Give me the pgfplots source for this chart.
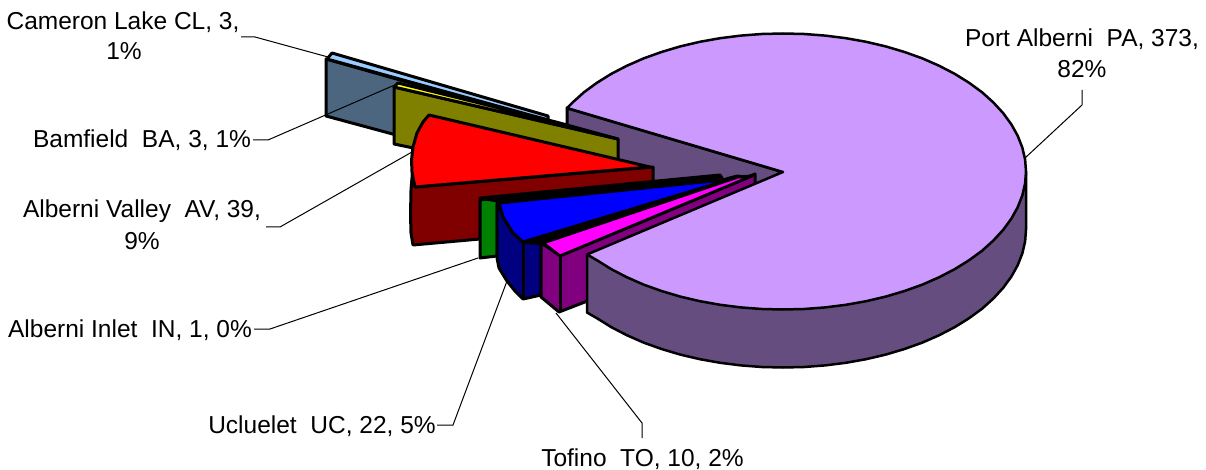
\documentclass[border=0pt]{standalone}
\usepackage{pgfplots}
\usepackage{fontspec}
\setmainfont{Liberation Sans}
\pgfplotsset{compat=1.18}
\definecolor{paT}{HTML}{CC99FF}
\definecolor{paS}{HTML}{664D80}
\definecolor{clT}{HTML}{99CCFF}
\definecolor{clS}{HTML}{4D6680}
\definecolor{baT}{HTML}{FFFF00}
\definecolor{baS}{HTML}{808000}
\definecolor{avT}{HTML}{FF0000}
\definecolor{avS}{HTML}{800000}
\definecolor{inS}{HTML}{008000}
\definecolor{ucT}{HTML}{0000FF}
\definecolor{ucS}{HTML}{000080}
\definecolor{toT}{HTML}{FF00FF}
\definecolor{toS}{HTML}{800080}
\tikzset{
  face/.style={draw=black,line width=3pt,line join=round,fill=#1},
  lead/.style={draw=black,line width=1pt,line join=miter},
  lab/.style={anchor=base,inner sep=0pt,outer sep=0pt,font=\fontsize{24.5}{29}\selectfont,text=black}
}
\begin{document}
\begin{tikzpicture}
\begin{axis}[
  scale only axis,width=1206pt,height=470pt,
  xmin=0,xmax=1206,ymin=0,ymax=470,y dir=reverse,
  hide axis,clip=false,no markers]
\path (axis cs:0,0) rectangle (axis cs:1206,470);
% Port Alberni: back cut face
\addplot[face=paS] coordinates {(567,108)(783,172)(650,235)(567,175)} --cycle;
% Cameron Lake
\addplot[face=clS] coordinates {(326,59)(548,122)(548,176)(326,116)} --cycle;
\addplot[face=clT] coordinates {(332,53)(327,59)(548,120)(548,116)} --cycle;
\addplot[lead] coordinates {(241,37)(255,37)(328,57)};
\addplot[lead] coordinates {(253,140)(268,140)(397,84)};
% Bamfield
\addplot[face=baS] coordinates {(394,87)(618,139)(618,190)(394,144)} --cycle;
\addplot[face=baT] coordinates {(398,83)(394,87)(618,139)(556,122)} --cycle;
% Alberni Valley
\addplot[face=avS] coordinates {(415,187)(653,167)(653,183)(480,200)(480,239)(413,245)(411,233)(410.5,215)(411,190)(413,165)} --cycle;
\addplot[face=avT] coordinates {(429,115)(423,122)(417,133)(413,147)(411.5,160)(412,172)(415,187)(650,167)} --cycle;
\addplot[lead] coordinates {(266,227)(280,227)(412,152)};
% Alberni Inlet
\addplot[face=inS] coordinates {(480,200)(497,198)(497,256)(480,258)} --cycle;
\addplot[face=black] coordinates {(480,198)(720,175)(722,178)(497,201)} --cycle;
\addplot[lead] coordinates {(254,329)(270,329)(478,258)};
% Ucluelet
\addplot[face=ucS] coordinates {(497,205)(497,258)(499,268)(507,281)(515,291)(523,299)(541,295)(541,238)(737,178)(737,176)(523,241)} --cycle;
\addplot[face=black] coordinates {(523,242)(730,178)(740,176)(543,244)} --cycle;
\addplot[face=ucT] coordinates {(499,203)(503,217)(513,233)(523,242)(728,180)(722,180)} --cycle;
\addplot[line width=3pt,black] coordinates {(523,241)(523,299)};
\addplot[lead] coordinates {(437,425)(453,425)(507,281)};
\addplot[lead] coordinates {(642,438)(642,423)(556,313)};
% Tofino
\addplot[face=toS] coordinates {(541,243)(541,297)(559,312)(590,300)(590,262)(755,185)(755,174)(560,255)} --cycle;
\addplot[face=toT] coordinates {(543,243)(560,256)(752,176)(738,177)} --cycle;
\addplot[line width=3pt,black] coordinates {(560,255)(560,312)};
% Port Alberni: rim
\addplot[face=paS,line width=2.5pt] coordinates {(1026,172)(1026,229.5)(1025.1,241.5)(1022.3,253.5)(1017.7,265.2)(1011.3,276.7)(1003.2,287.8)(993.4,298.5)(982.1,308.7)(969.1,318.2)(954.8,327.1)(939.2,335.2)(922.4,342.6)(904.5,349)(885.7,354.6)(866.1,359.2)(845.9,362.8)(825.2,365.4)(804.2,367)(783,367.5)(761.8,367)(740.8,365.4)(720.1,362.8)(699.9,359.2)(680.3,354.6)(661.5,349)(643.6,342.6)(626.8,335.2)(611.2,327.1)(596.9,318.2)(587,312.5)(587,255)} --cycle;
% Port Alberni: top face
\addplot[face=paT,line width=2.5pt] coordinates {(567,108)(572.6,102.5)(583.9,92.3)(596.9,82.8)(611.2,73.9)(626.8,65.8)(643.6,58.4)(661.5,52)(680.3,46.4)(699.9,41.8)(720.1,38.2)(740.8,35.6)(761.8,34)(783,33.5)(804.2,34)(825.2,35.6)(845.9,38.2)(866.1,41.8)(885.7,46.4)(904.5,52)(922.4,58.4)(939.2,65.8)(954.8,73.9)(969.1,82.8)(982.1,92.3)(993.4,102.5)(1003.2,113.2)(1011.3,124.3)(1017.7,135.8)(1022.3,147.5)(1025.1,159.5)(1026,171.5)(1025.1,183.5)(1022.3,195.5)(1017.7,207.2)(1011.3,218.7)(1003.2,229.8)(993.4,240.5)(982.1,250.7)(969.1,260.2)(954.8,269.1)(939.2,277.2)(922.4,284.6)(904.5,291)(885.7,296.6)(866.1,301.2)(845.9,304.8)(825.2,307.4)(804.2,309)(783,309.5)(761.8,309)(740.8,307.4)(720.1,304.8)(699.9,301.2)(680.3,296.6)(661.5,291)(643.6,284.6)(626.8,277.2)(611.2,269.1)(596.9,260.2)(587,254.5)(783,172)} --cycle;
\addplot[lead] coordinates {(1082,90)(1082,105)(1025,158)};
% Labels
\node[lab] at (axis cs:123,30) {Cameron Lake CL, 3,};
\node[lab] at (axis cs:124,60) {1\%};
\node[lab] at (axis cs:142,148) {Bamfield~~BA, 3, 1\%};
\node[lab] at (axis cs:142,218) {Alberni Valley~~AV, 39,};
\node[lab] at (axis cs:142,250) {9\%};
\node[lab] at (axis cs:130,337) {Alberni Inlet~~IN, 1, 0\%};
\node[lab] at (axis cs:322,433) {Ucluelet~~UC, 22, 5\%};
\node[lab] at (axis cs:642.5,466) {Tofino~~TO, 10, 2\%};
\node[lab] at (axis cs:1082,47) {Port Alberni~~PA, 373,};
\node[lab] at (axis cs:1082,78) {82\%};
\end{axis}
\end{tikzpicture}
\end{document}
